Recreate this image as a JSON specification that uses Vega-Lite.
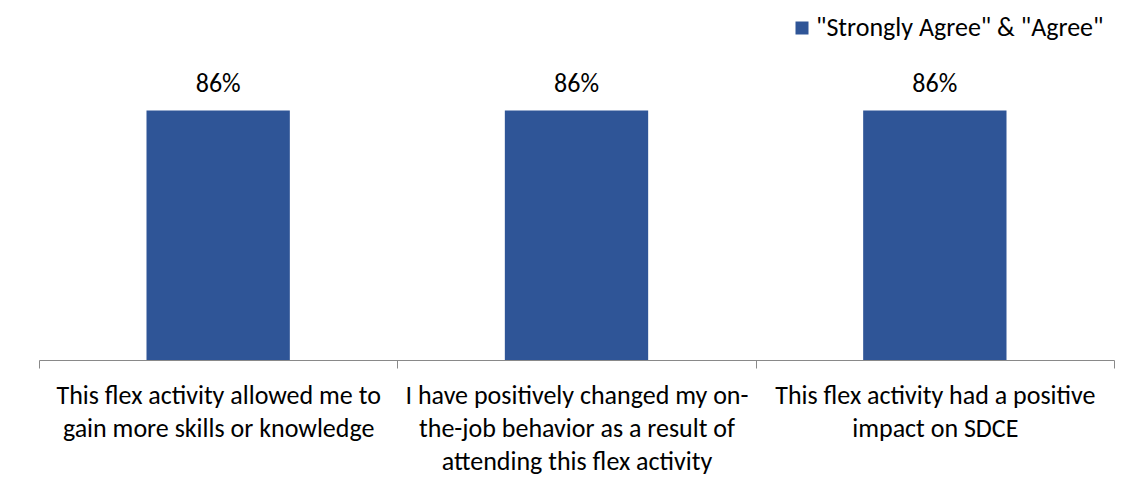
{
  "$schema": "https://vega.github.io/schema/vega-lite/v6.json",
  "width": 1075,
  "height": 290,
  "autosize": {"type": "none"},
  "padding": {"left": 39, "top": 70, "right": 14, "bottom": 130},
  "background": "white",
  "config": {
    "view": {"stroke": null},
    "font": "Carlito, Lato, sans-serif"
  },
  "data": {
    "values": [
      {"statement": "This flex activity allowed me to gain more skills or knowledge", "series": "\"Strongly Agree\" & \"Agree\"", "pct": 0.86},
      {"statement": "I have positively changed my on-the-job behavior as a result of attending this flex activity", "series": "\"Strongly Agree\" & \"Agree\"", "pct": 0.86},
      {"statement": "This flex activity had a positive impact on SDCE", "series": "\"Strongly Agree\" & \"Agree\"", "pct": 0.86}
    ]
  },
  "encoding": {
    "x": {
      "field": "statement",
      "type": "nominal",
      "sort": null,
      "scale": {"paddingInner": 0, "paddingOuter": 0},
      "axis": {
        "title": null,
        "labelAngle": 0,
        "tickBand": "extent",
        "tickSize": 8,
        "tickColor": "#898989",
        "domainColor": "#898989",
        "labelFontSize": 26,
        "labelColor": "#000000",
        "labelPadding": 14,
        "labelLineHeight": 33,
        "labelLimit": 0,
        "labelFont": "Carlito, Lato, sans-serif",
        "labelExpr": "datum.value == 'This flex activity allowed me to gain more skills or knowledge' ? ['This flex activity allowed me to', 'gain more skills or knowledge'] : datum.value == 'This flex activity had a positive impact on SDCE' ? ['This flex activity had a positive', 'impact on SDCE'] : datum.value == 'I have positively changed my on-the-job behavior as a result of attending this flex activity' ? ['I have positively changed my on-', 'the-job behavior as a result of', 'attending this flex activity'] : ''"
      }
    },
    "y": {
      "field": "pct",
      "type": "quantitative",
      "scale": {"domain": [0, 1]},
      "axis": null
    }
  },
  "layer": [
    {
      "mark": {"type": "bar", "width": {"band": 0.4}},
      "encoding": {
        "color": {
          "field": "series",
          "type": "nominal",
          "scale": {"range": ["#2F5597"]},
          "legend": {
            "title": null,
            "orient": "none",
            "legendX": 750,
            "legendY": -55,
            "symbolType": "square",
            "symbolSize": 169,
            "symbolStrokeWidth": 0,
            "labelFontSize": 26,
            "labelColor": "#000000",
            "labelOffset": 1,
            "labelLimit": 0,
            "labelFont": "Carlito, Lato, sans-serif"
          }
        }
      }
    },
    {
      "mark": {"type": "text", "baseline": "alphabetic", "dy": -19, "fontSize": 26, "color": "#000000"},
      "encoding": {
        "text": {"field": "pct", "type": "quantitative", "format": ".0%"}
      }
    }
  ]
}
